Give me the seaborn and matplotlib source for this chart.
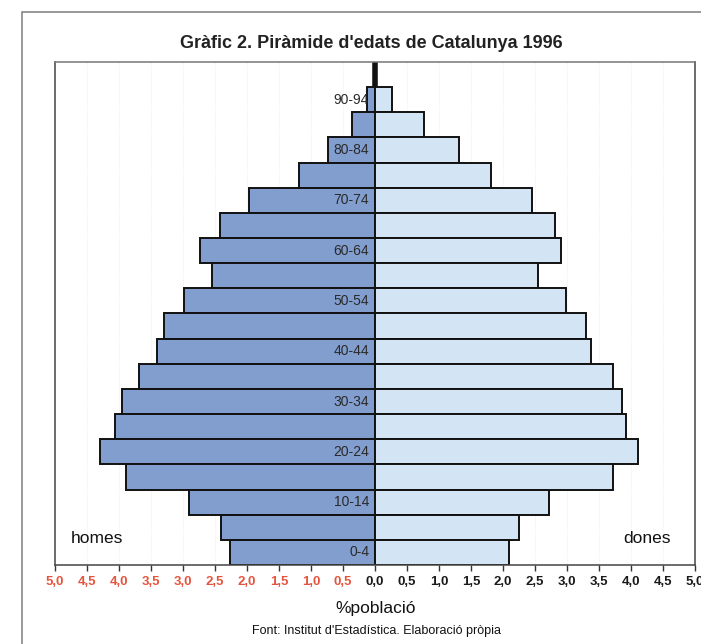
import matplotlib
matplotlib.use("Agg")
import matplotlib.pyplot as plt
from matplotlib.patches import Rectangle
from matplotlib.ticker import FuncFormatter, MultipleLocator
import pandas as pd
import seaborn as sns

# Age groups, youngest first
age_groups = ["0-4", "5-9", "10-14", "15-19", "20-24", "25-29", "30-34",
              "35-39", "40-44", "45-49", "50-54", "55-59", "60-64", "65-69",
              "70-74", "75-79", "80-84", "85-89", "90-94"]
# % of population
homes = [2.26, 2.40, 2.90, 3.89, 4.30, 4.07, 3.95, 3.69, 3.41, 3.30,
         2.98, 2.54, 2.73, 2.42, 1.97, 1.19, 0.74, 0.36, 0.12]
dones = [2.09, 2.25, 2.72, 3.72, 4.11, 3.92, 3.86, 3.72, 3.38, 3.30,
         2.98, 2.55, 2.91, 2.81, 2.46, 1.82, 1.31, 0.76, 0.26]
shown_labels = age_groups[::2]

sns.set_theme(style="white")
plt.rcParams["font.family"] = ["Liberation Sans", "DejaVu Sans"]

df = pd.DataFrame({"edat": age_groups, "homes": homes, "dones": dones})
df["homes_neg"] = -df["homes"]
order = age_groups[::-1]  # oldest at top

fig = plt.figure(figsize=(7.01, 6.44), dpi=100)
ax = fig.add_axes([55 / 701, 79 / 644, 640 / 701, 503 / 644])

sns.barplot(data=df, x="homes_neg", y="edat", order=order, orient="h",
            color="#819ecf", saturation=1, width=1.0, edgecolor="#111111",
            linewidth=1.4, ax=ax)
sns.barplot(data=df, x="dones", y="edat", order=order, orient="h",
            color="#d3e4f5", saturation=1, width=1.0, edgecolor="#111111",
            linewidth=1.4, ax=ax)

ax.set_xlim(-5, 5)
ax.set_ylim(len(order) - 0.5, -1.5)

# thick centre line above the top bar
ax.plot([0, 0], [-1.5, -0.5], color="#111111", lw=4, solid_capstyle="butt")

# faint vertical grid
for v in [i * 0.5 for i in range(-9, 10)]:
    ax.axvline(v, color="#e6e6e6", lw=0.6, ls=":", zorder=0)

# age labels inside, left of centre
ax.set_yticks([])
ax.set_ylabel("")
for i, lab in enumerate(order):
    if lab in shown_labels:
        ax.text(-0.09, i, lab, ha="right", va="center", fontsize=10,
                color="#2a2a2a")

ax.xaxis.set_major_locator(MultipleLocator(0.5))
ax.xaxis.set_major_formatter(FuncFormatter(lambda v, p: f"{abs(v):.1f}".replace(".", ",")))
ax.tick_params(axis="x", bottom=True, direction="out", length=4, width=1,
               color="#333333", labelsize=9.5, pad=4)
for t in ax.get_xticklabels():
    t.set_fontweight("bold")
    if t.get_position()[0] < -0.01:
        t.set_color("#e4553f")
    else:
        t.set_color("#1a1a1a")
ax.set_xlabel("")

for s in ["left", "right", "top", "bottom"]:
    ax.spines[s].set_color("#444444")
    ax.spines[s].set_linewidth(1.1)
ax.spines["top"].set_color("#777777")

ax.text(-4.75, 17.45, "homes", fontsize=12.5, ha="left", va="center", color="#111111")
ax.text(4.62, 17.45, "dones", fontsize=12.5, ha="right", va="center", color="#111111")

fig.text(371 / 701, 1 - 43 / 644, "Gràfic 2. Piràmide d'edats de Catalunya 1996",
         ha="center", va="center", fontsize=13, fontweight="bold", color="#222222")
fig.text(376 / 701, 1 - 609 / 644, "%població", ha="center", va="center",
         fontsize=12.5, color="#111111")
fig.text(376 / 701, 1 - 631 / 644, "Font: Institut d'Estadística. Elaboració pròpia",
         ha="center", va="center", fontsize=9, color="#111111")

# outer frame
fig.patches.append(Rectangle((22 / 701, -0.05), 1.0, 1 - 12 / 644 + 0.05,
                             transform=fig.transFigure, fill=False,
                             edgecolor="#888888", lw=1.2))

fig.savefig("out.png", dpi=100, facecolor="white")
